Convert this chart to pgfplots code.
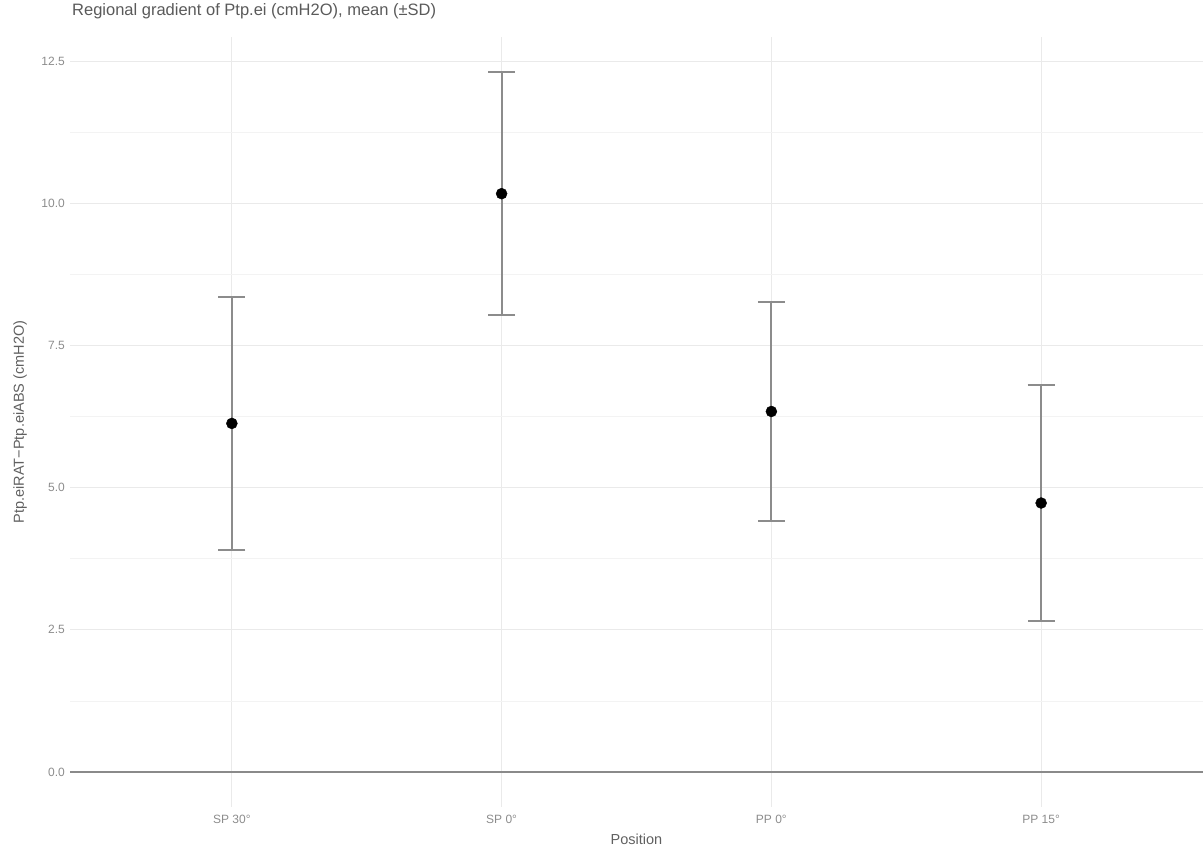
\documentclass[border=0pt]{standalone}
\usepackage{fontspec}
\setmainfont{Liberation Sans}
\usepackage{pgfplots}
\usepackage{pgfplotstable}
\pgfplotsset{compat=1.18}

\definecolor{gridmaj}{HTML}{EAEAEA}
\definecolor{gridmin}{HTML}{F3F3F3}
\definecolor{zeroline}{HTML}{8A8A8A}
\definecolor{errgray}{HTML}{8C8C8C}
\definecolor{ticktext}{HTML}{8C8C8C}
\definecolor{titletext}{HTML}{5A5A5A}
\definecolor{labeltext}{HTML}{606060}

% mean and standard deviation per position
\pgfplotstableread{
x  y      sd
1  6.13   2.23
2  10.17  2.14
3  6.34   1.92
4  4.73   2.08
}\gradient

\begin{document}
\begin{tikzpicture}[x=1pt,y=1pt]
\useasboundingbox (0,0) rectangle (1203,848);
\begin{axis}[
  at={(70pt,41pt)}, anchor=south west,
  scale only axis, width=1133pt, height=770pt,
  xmin=0.4, xmax=4.6, ymin=-0.6155, ymax=12.9255,
  axis line style={draw=none},
  major tick length=0pt, minor tick length=0pt,
  xtick={1,2,3,4},
  xticklabels={SP 30°, SP 0°, PP 0°, PP 15°},
  ytick={0,2.5,5,7.5,10,12.5},
  minor ytick={1.25,3.75,6.25,8.75,11.25},
  /pgf/number format/assume math mode=true,
  yticklabel style={/pgf/number format/fixed, /pgf/number format/fixed zerofill,
    /pgf/number format/precision=1, anchor=east, inner sep=0pt, xshift=-5pt,
    text=ticktext, font=\fontsize{12}{14}\selectfont},
  xticklabel style={anchor=north, inner sep=0pt, yshift=-8pt,
    text=ticktext, font=\fontsize{12}{14}\selectfont},
  xmajorgrids, ymajorgrids, yminorgrids,
  major grid style={gridmaj, line width=1.2pt},
  minor grid style={gridmin, line width=0.7pt},
  xlabel={Position},
  xlabel style={at={(axis description cs:0.5,0)}, anchor=base, yshift=-38pt,
    inner sep=0pt, text=labeltext, font=\fontsize{14.5}{17}\selectfont},
  ylabel={Ptp.eiRAT−Ptp.eiABS (cmH2O)},
  ylabel style={at={(axis description cs:-0.0441,0.5)}, anchor=center, rotate=0,
    inner sep=0pt, text=labeltext, font=\fontsize{14.5}{17}\selectfont},
  title={Regional gradient of Ptp.ei (cmH2O), mean (±SD)},
  title style={at={(axis description cs:0,1)}, anchor=base west, yshift=15pt,
    xshift=2pt, inner sep=0pt, text=titletext, font=\fontsize{16.5}{19}\selectfont},
]
% reference line at zero
\addplot[zeroline, line width=1.8pt, forget plot] coordinates {(0.4,0) (4.6,0)};
% mean +/- SD whiskers
\addplot[only marks, mark=none, forget plot,
  error bars/.cd, y dir=both, y explicit,
  error bar style={draw=errgray, line width=2.2pt},
  error mark options={rotate=90, mark size=13.5pt, draw=errgray, line width=2.2pt}]
  table[x=x, y=y, y error=sd] {\gradient};
% group means
\addplot[only marks, mark=*, mark size=5.5pt, black, forget plot]
  table[x=x, y=y] {\gradient};
\end{axis}
\end{tikzpicture}
\end{document}
